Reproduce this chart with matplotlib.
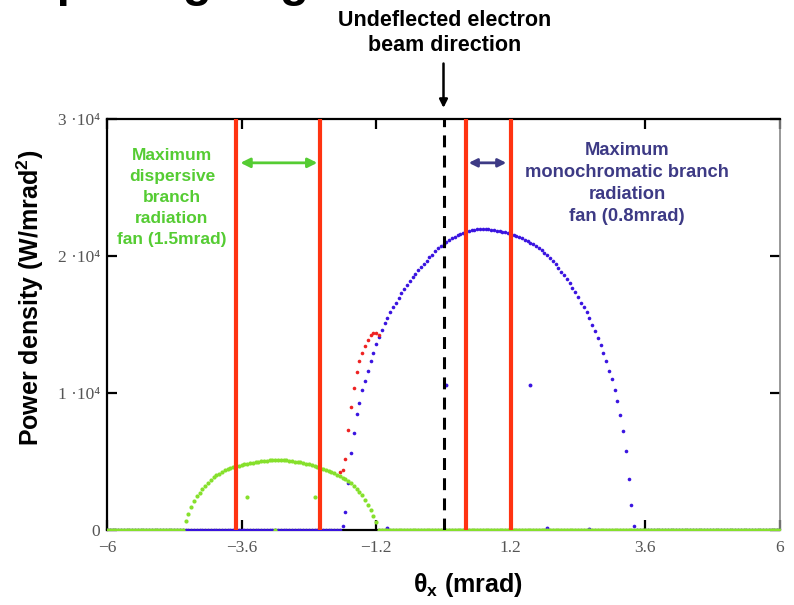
import numpy as np
import matplotlib
matplotlib.use("Agg")
from matplotlib import pyplot as plt

plt.rcParams['font.family'] = ['Liberation Sans', 'DejaVu Sans']
plt.rcParams['mathtext.fontset'] = 'custom'
plt.rcParams['mathtext.rm'] = 'Liberation Sans'
plt.rcParams['mathtext.bf'] = 'Liberation Sans:bold'

# angle grid of the calculation, mrad
theta = np.round(np.arange(-6.0, 6.0001, 0.05), 2)

# monochromatic branch power density, 1e3 W/mrad^2, from -1.80 to 3.40 mrad
mono_start, mono_stop = -1.80, 3.40
mono_vals = [0.3, 1.3, 3.4, 5.6, 7.1, 8.5, 9.3, 10.2, 10.9, 11.6,
             12.3, 12.9, 13.6, 14.1, 14.6, 15.1, 15.5, 15.9, 16.3, 16.6,
             16.95, 17.3, 17.6, 17.9, 18.2, 18.45, 18.7, 19.0, 19.2, 19.45,
             19.65, 19.9, 20.1, 20.35, 20.55, 20.75, 20.9, 21.0, 21.15, 21.3,
             21.4, 21.5, 21.6, 21.7, 21.78, 21.84, 21.88, 21.92, 21.94, 21.95,
             21.96, 21.95, 21.94, 21.92, 21.9, 21.85, 21.8, 21.77, 21.72, 21.66,
             21.58, 21.5, 21.45, 21.38, 21.28, 21.18, 21.08, 20.98, 20.88, 20.75,
             20.58, 20.42, 20.25, 20.05, 19.85, 19.6, 19.4, 19.15, 18.85, 18.6,
             18.3, 18.0, 17.7, 17.35, 17.0, 16.6, 16.25, 15.9, 15.45, 15.0,
             14.5, 14.0, 13.5, 12.9, 12.3, 11.6, 11.0, 10.25, 9.4, 8.4,
             7.2, 5.8, 3.7, 1.8, 0.3]

# dispersive branch, from -4.60 to -1.20 mrad
disp_start, disp_stop = -4.60, -1.20
disp_vals = [0.65, 1.2, 1.7, 2.1, 2.45, 2.72, 3.0, 3.23, 3.45, 3.65,
             3.85, 4.0, 4.12, 4.23, 4.35, 4.45, 4.52, 4.58, 4.64, 4.69,
             4.74, 4.79, 4.83, 4.87, 4.91, 4.95, 4.99, 5.03, 5.05, 5.07,
             5.08, 5.09, 5.1, 5.1, 5.1, 5.09, 5.08, 5.06, 5.03, 5.0,
             4.97, 4.93, 4.9, 4.85, 4.79, 4.73, 4.67, 4.61, 4.54, 4.47,
             4.39, 4.32, 4.25, 4.15, 4.05, 3.94, 3.83, 3.7, 3.57, 3.4,
             3.2, 3.0, 2.77, 2.52, 2.22, 1.85, 1.45, 1.02, 0.55]

# overlap region, -1.85 to -1.15 mrad
over_x = [-1.85, -1.80, -1.75, -1.70, -1.65, -1.60, -1.55, -1.50,
          -1.45, -1.40, -1.35, -1.30, -1.25, -1.20, -1.15]
over_vals = [4.2, 4.35, 5.2, 7.3, 9.0, 10.4, 11.5, 12.3,
             12.95, 13.4, 13.9, 14.2, 14.35, 14.35, 14.25]

# stray points of the calculation
mono_odd_x = [0.05, 1.55, -1.0, 1.85, 2.6]
mono_odd_y = [10.6, 10.6, 0.15, 0.17, 0.1]
disp_odd_x = [-3.5, -2.3, -3.0]
disp_odd_y = [2.43, 2.43, 0.0]

# fan limits (mrad)
fan_lines = [-3.7, -2.2, 0.4, 1.2]

xticks = [-6, -3.6, -1.2, 1.2, 3.6, 6]
xticklabels = ['\u22126', '\u22123.6', '\u22121.2', '1.2', '3.6', '6']
yticks = [0, 1e4, 2e4, 3e4]
yticklabels = ['0', '1 \u00b710\u2074', '2 \u00b710\u2074', '3 \u00b710\u2074']

# build full series on the grid (zero outside each fan)
mono = np.zeros_like(theta)
m = (theta >= mono_start - 1e-9) & (theta <= mono_stop + 1e-9)
mono[m] = np.array(mono_vals) * 1e3
disp = np.zeros_like(theta)
d = (theta >= disp_start - 1e-9) & (theta <= disp_stop + 1e-9)
disp[d] = np.array(disp_vals) * 1e3

fig = plt.figure(figsize=(7.94, 6.05), dpi=100)
ax = fig.add_axes([107/794, 75/605, 673/794, 411/605])

blue = '#3a14e0'
green = '#86e02c'
red_pts = '#ee2222'

ax.plot(theta, mono, 'o', ms=2.6, color=blue, mec='none', zorder=3)
ax.plot(mono_odd_x, np.array(mono_odd_y) * 1e3, 'o', ms=2.8, color=blue, mec='none', zorder=3)
ax.plot(theta, disp, 'o', ms=3.0, color=green, mec='none', zorder=4)
ax.plot(disp_odd_x, np.array(disp_odd_y) * 1e3, 'o', ms=3.0, color=green, mec='none', zorder=4)
ax.plot(over_x, np.array(over_vals) * 1e3, 'o', ms=2.6, color=red_pts, mec='none', zorder=3)

for xl in fan_lines:
    ax.axvline(xl, color='#ff3311', lw=3.0, zorder=5)
ax.axvline(0, color='black', lw=2.2, dashes=(3.9, 2.7), zorder=5)

ax.set_xlim(-6, 6)
ax.set_ylim(0, 3e4)
ax.set_xticks(xticks)
ax.set_xticklabels(xticklabels, family=['Liberation Serif', 'DejaVu Serif'], fontsize=12.5)
ax.set_yticks(yticks)
ax.set_yticklabels(yticklabels, family=['Liberation Serif', 'DejaVu Serif'], fontsize=12.5)
ax.tick_params(direction='in', top=True, right=True, length=7, width=1.6, colors='black',
               labelcolor='#555555')
ax.tick_params(axis='x', pad=7)
ax.tick_params(axis='y', pad=5)
for s in ['top', 'left', 'bottom']:
    ax.spines[s].set_linewidth(1.6)
ax.spines['right'].set_color('#888888')
ax.spines['right'].set_linewidth(1.2)

ax.set_ylabel('Power density (W/mrad$^\\mathbf{2}$)', fontsize=18, fontweight='bold')
ax.yaxis.set_label_coords(-0.09, 0.564)
ax.set_xlabel('\u03b8$_\\mathbf{x}$ (mrad)', fontsize=18, fontweight='bold')
ax.xaxis.set_label_coords(0.536, -0.10)

# fan annotations
ax.text(-4.84, 24300, 'Maximum\ndispersive\nbranch\nradiation\nfan (1.5mrad)', color='#55cc33',
        fontsize=12.5, fontweight='bold', ha='center', va='center', linespacing=1.5)
ax.text(3.27, 25300, 'Maximum\nmonochromatic branch\nradiation\nfan (0.8mrad)', color='#3d3a85',
        fontsize=13.2, fontweight='bold', ha='center', va='center', linespacing=1.4)
ax.annotate('', xy=(-3.62, 26800), xytext=(-2.25, 26800),
            arrowprops=dict(arrowstyle='<|-|>', color='#55cc33', lw=2, mutation_scale=14, shrinkA=0, shrinkB=0))
ax.annotate('', xy=(0.45, 26800), xytext=(1.12, 26800),
            arrowprops=dict(arrowstyle='<|-|>', color='#3d3a85', lw=2, mutation_scale=12, shrinkA=0, shrinkB=0))

# beam direction marker above the plot
ax.annotate('', xy=(0, 1.027), xytext=(0, 1.135), xycoords=('data', 'axes fraction'),
            textcoords=('data', 'axes fraction'),
            arrowprops=dict(arrowstyle='-|>', color='black', lw=1.8, mutation_scale=12, shrinkA=0, shrinkB=0))
fig.text(445/794, 1 - 33/605, 'Undeflected electron\nbeam direction', ha='center', va='center',
         fontsize=15.5, fontweight='bold', linespacing=1.3)

# slide title, mostly above the page edge
fig.text(20/794, 1 + 4/605, 'Opening angle', fontsize=34, fontweight='bold', ha='left', va='baseline')

fig.savefig('out.png', dpi=100)
